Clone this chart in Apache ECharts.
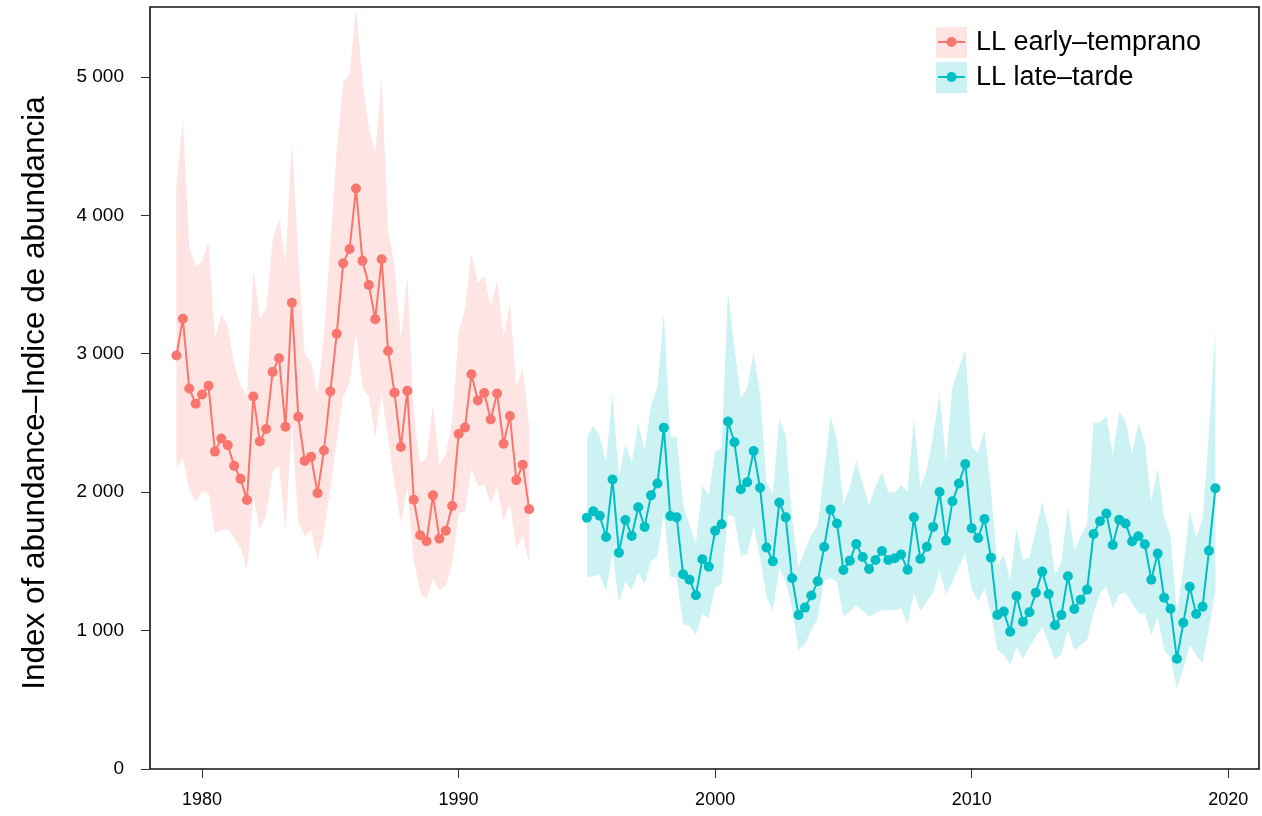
<!DOCTYPE html>
<html>
<head>
<meta charset="utf-8">
<script src="https://cdn.jsdelivr.net/npm/echarts@6/dist/echarts.min.js"></script>
<style>
  html, body { margin: 0; padding: 0; background: #fff; }
  #chart { width: 1262px; height: 816px; }
</style>
</head>
<body>
<div id="chart"></div>
<script>
// Quarterly abundance index, longline early (1979–1992) and late (1995–2019) periods
const earlyStart = 1979;
const earlyIndex = [
  2987, 3253, 2749, 2639, 2705, 2769, 2293, 2387, 2340, 2190, 2096, 1944,
  2691, 2367, 2456, 2868, 2968, 2472, 3369, 2544, 2226, 2256, 1993, 2301,
  2727, 3145, 3654, 3757, 4194, 3671, 3497, 3250, 3682, 3020, 2719, 2326,
  2733, 1946, 1689, 1645, 1977, 1664, 1722, 1900, 2420, 2467, 2852, 2663,
  2716, 2525, 2713, 2350, 2550, 2087, 2198, 1877
];
const earlyUpper = [
  4220, 4700, 3772, 3633, 3663, 3811, 3103, 3279, 3200, 2930, 2775, 2697,
  3605, 3257, 3318, 3815, 3976, 3663, 4542, 3700, 3000, 2940, 2704, 3130,
  3790, 4477, 4963, 5020, 5490, 4980, 4636, 4449, 4990, 3900, 3637, 3108,
  3566, 2580, 2207, 2248, 2636, 2193, 2276, 2511, 3148, 3328, 3729, 3508,
  3563, 3342, 3535, 3120, 3369, 2760, 2893, 2483
];
const earlyLower = [
  2180, 2250, 2015, 1930, 2004, 1992, 1702, 1727, 1735, 1665, 1600, 1435,
  1970, 1730, 1840, 2143, 2195, 1720, 2500, 1780, 1680, 1727, 1510, 1700,
  2030, 2373, 2691, 2788, 3150, 2760, 2691, 2400, 2705, 2387, 2060, 1777,
  2041, 1514, 1279, 1224, 1376, 1293, 1321, 1487, 1847, 1861, 2179, 2041,
  2054, 1916, 2041, 1791, 1916, 1598, 1681, 1487
];

const lateStart = 1995;
const lateIndex = [
  1816, 1862, 1830, 1676, 2091, 1563, 1799, 1684, 1891, 1749, 1977, 2062,
  2466, 1828, 1818, 1407, 1368, 1255, 1515, 1462, 1722, 1768, 2510, 2360,
  2021, 2071, 2298, 2032, 1600, 1500, 1925, 1818, 1378, 1113, 1166, 1253,
  1356, 1604, 1874, 1773, 1438, 1505, 1626, 1532, 1445, 1510, 1575, 1510,
  1522, 1549, 1440, 1818, 1517, 1606, 1749, 2001, 1650, 1934, 2062, 2204,
  1739, 1669, 1806, 1527, 1113, 1137, 992, 1250, 1064, 1132, 1274, 1426,
  1264, 1038, 1113, 1392, 1156, 1223, 1296, 1698, 1790, 1845, 1618, 1801,
  1773, 1643, 1681, 1624, 1368, 1556, 1238, 1158, 797, 1056, 1317, 1120,
  1173, 1577, 2028
];
const lateUpper = [
  2394, 2481, 2402, 2220, 2719, 2112, 2353, 2213, 2493, 2305, 2623, 2762,
  3293, 2406, 2397, 1908, 1763, 1631, 2047, 1980, 2293, 2317, 3442, 3051,
  2678, 2751, 3008, 2714, 2070, 1986, 2528, 2413, 1799, 1462, 1582, 1691,
  1763, 2150, 2551, 2382, 1908, 2040, 2225, 2064, 1908, 2040, 2144, 1999,
  1999, 2052, 2004, 2534, 2040, 2156, 2413, 2714, 2221, 2763, 2895, 3032,
  2329, 2286, 2449, 2016, 1474, 1546, 1366, 1739, 1510, 1529, 1727, 1932,
  1739, 1402, 1498, 1895, 1582, 1679, 1775, 2502, 2502, 2551, 2269, 2582,
  2510, 2281, 2502, 2353, 1930, 2173, 1820, 1685, 1120, 1450, 1871, 1667,
  1811, 2420, 3180
];
const lateLower = [
  1382, 1394, 1402, 1288, 1558, 1202, 1353, 1293, 1421, 1334, 1503, 1534,
  1847, 1389, 1379, 1045, 1035, 968, 1118, 1093, 1310, 1337, 1835, 1818,
  1539, 1553, 1751, 1534, 1240, 1143, 1450, 1353, 1161, 860, 901, 1004,
  1089, 1366, 1378, 1353, 1106, 1137, 1185, 1142, 1101, 1125, 1149, 1144,
  1149, 1161, 1048, 1274, 1137, 1209, 1281, 1438, 1257, 1353, 1458, 1558,
  1300, 1212, 1305, 1125, 860, 824, 751, 884, 800, 884, 956, 1028,
  908, 788, 831, 1004, 860, 896, 932, 1125, 1269, 1317, 1161, 1264,
  1269, 1197, 1125, 1120, 970, 1101, 860, 806, 580, 720, 896, 824,
  764, 1016, 1293
];

const xTicks = [1980, 1990, 2000, 2010, 2020];
const yTicks = [0, 1000, 2000, 3000, 4000, 5000];

const seriesNames = ['LL early\u2013temprano', 'LL late\u2013tarde'];
const lineColors = ['#F8766D', '#00BFC4'];
const bandColors = ['#FEE4E2', '#CCF2F3'];

// quarter time stamps for each series
function quarters(start, n) {
  const out = [];
  for (let i = 0; i < n; i++) out.push(start + i / 4);
  return out;
}
const earlyT = quarters(earlyStart, earlyIndex.length);
const lateT = quarters(lateStart, lateIndex.length);

const FONT = 'Liberation Sans, Arial, Helvetica, sans-serif';

function bandSeries(t, lo, hi, fill) {
  return {
    type: 'custom',
    silent: true,
    z: 1,
    data: t.map((x, i) => [x, lo[i], hi[i]]),
    encode: { x: 0, y: [1, 2] },
    renderItem: function (params, api) {
      if (params.dataIndex !== 0) return null;
      const pts = [];
      for (let i = 0; i < t.length; i++) pts.push(api.coord([t[i], hi[i]]));
      for (let i = t.length - 1; i >= 0; i--) pts.push(api.coord([t[i], lo[i]]));
      return { type: 'polygon', shape: { points: pts }, style: { fill: fill } };
    }
  };
}

function lineSeries(name, t, v, color) {
  return {
    name: name,
    type: 'line',
    z: 3,
    data: t.map((x, i) => [x, v[i]]),
    symbol: 'circle',
    symbolSize: 10,
    showSymbol: true,
    lineStyle: { color: color, width: 2 },
    itemStyle: { color: color },
    emphasis: { disabled: true }
  };
}

function fmtThousands(v) {
  return String(v).replace(/\B(?=(\d{3})+(?!\d))/g, ' ');
}

// legend key: shaded square with line and dot, then label
function legendItem(y, i) {
  return [
    { type: 'rect', shape: { x: 936, y: y - 15, width: 31, height: 31 }, style: { fill: bandColors[i] } },
    { type: 'line', shape: { x1: 938, y1: y, x2: 965, y2: y }, style: { stroke: lineColors[i], lineWidth: 2 } },
    { type: 'circle', shape: { cx: 951.5, cy: y, r: 5 }, style: { fill: lineColors[i] } },
    { type: 'text', x: 976, y: y + 1, style: { text: seriesNames[i], font: '27px ' + FONT, fill: '#000', textVerticalAlign: 'middle' } }
  ];
}

const chart = echarts.init(document.getElementById('chart'), null, { renderer: 'canvas' });
chart.setOption({
  animation: false,
  backgroundColor: '#fff',
  grid: {
    left: 150, right: 3, top: 7, bottom: 47,
    show: true, borderColor: '#111', borderWidth: 1.6, backgroundColor: 'transparent'
  },
  xAxis: {
    type: 'value',
    min: 1977.97, max: 2021.2,
    axisLine: { show: false },
    splitLine: { show: false },
    axisTick: { show: true, length: 9, lineStyle: { color: '#333', width: 1 }, customValues: xTicks },
    axisLabel: { customValues: xTicks, margin: 22, fontSize: 18, fontFamily: FONT, color: '#000', formatter: v => String(v) }
  },
  yAxis: {
    type: 'value',
    min: 0, max: 5505,
    name: 'Index of abundance\u2013Indice de abundancia',
    nameLocation: 'middle',
    nameGap: 99,
    nameTextStyle: { fontSize: 31.5, fontFamily: FONT, color: '#000', padding: [0, 10, 0, 0] },
    axisLine: { show: false },
    splitLine: { show: false },
    axisTick: { show: true, length: 9, lineStyle: { color: '#333', width: 1 }, customValues: yTicks },
    axisLabel: { customValues: yTicks, margin: 26, fontSize: 19, fontFamily: FONT, color: '#000', formatter: fmtThousands }
  },
  series: [
    bandSeries(earlyT, earlyLower, earlyUpper, bandColors[0]),
    bandSeries(lateT, lateLower, lateUpper, bandColors[1]),
    lineSeries(seriesNames[0], earlyT, earlyIndex, lineColors[0]),
    lineSeries(seriesNames[1], lateT, lateIndex, lineColors[1])
  ],
  graphic: [].concat(legendItem(42, 0), legendItem(77, 1))
});
</script>
</body>
</html>
